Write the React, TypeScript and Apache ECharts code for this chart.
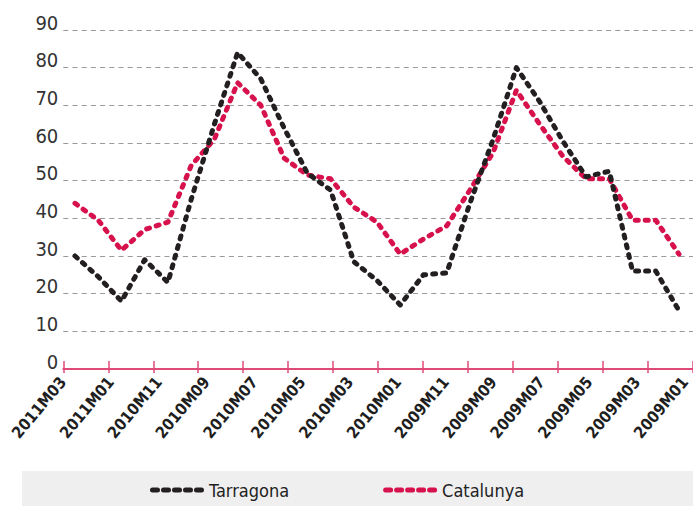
import React, { useEffect, useRef } from "react";
import * as echarts from "echarts";

// Monthly categories (data order as drawn, left to right)
const months = [
  "2011M03", "2011M02", "2011M01", "2010M12", "2010M11", "2010M10", "2010M09",
  "2010M08", "2010M07", "2010M06", "2010M05", "2010M04", "2010M03", "2010M02",
  "2010M01", "2009M12", "2009M11", "2009M10", "2009M09", "2009M08", "2009M07",
  "2009M06", "2009M05", "2009M04", "2009M03", "2009M02", "2009M01",
];

// Tick labels shown under the axis
const tickLabels = [
  "2011M03", "2011M01", "2010M11", "2010M09", "2010M07", "2010M05", "2010M03",
  "2010M01", "2009M11", "2009M09", "2009M07", "2009M05", "2009M03", "2009M01",
];

const tarragona = [
  30, 24.5, 18, 29, 23, 45, 65, 84, 77, 64, 52, 47.5, 28.5, 23.5, 17, 25, 25.5,
  44, 61, 80, 71, 60.5, 51, 52.5, 26, 26, 15.5,
];

const catalunya = [
  44, 39.5, 31.5, 37, 39, 54, 61, 76, 70, 56, 51.5, 50.5, 43, 39, 30.5, 34.5, 38,
  47.5, 57.5, 74, 65, 56.5, 50.5, 50.5, 39.5, 39.5, 30.5,
];

const yTicks = [0, 10, 20, 30, 40, 50, 60, 70, 80, 90];

const NARROW = "'DejaVu Sans Condensed', 'Liberation Sans Narrow', sans-serif";
const BLACK = "#231f20";
const RED = "#d6114c";
const AXIS_RED = "#e04a78";

// legend icon: five pill-shaped dots
const dotsIcon =
  "path://" +
  [0, 1, 2, 3, 4]
    .map((i) => {
      const x = i * 11;
      return `M${x + 2.5},0 L${x + 7.5},0 A2.5,2.5 0 0 1 ${x + 7.5},5 L${x + 2.5},5 A2.5,2.5 0 0 1 ${x + 2.5},0 Z`;
    })
    .join(" ");

export default function App() {
  const ref = useRef<HTMLDivElement>(null);

  useEffect(() => {
    if (!ref.current) return;
    const chart = echarts.init(ref.current, undefined, { renderer: "svg" });
    const top = 30;
    const bottom = 137;
    const lineStyleBase = { width: 5, type: [3, 7] as any, cap: "round" as any, join: "round" as any };
    chart.setOption({
      animation: false,
      backgroundColor: "#ffffff",
      graphic: [
        {
          type: "rect",
          left: 22,
          top: 471,
          shape: { width: 700, height: 40 },
          style: { fill: "#efeff0" },
          silent: true,
          z: 0,
        },
      ],
      legend: {
        left: 150,
        top: 481,
        padding: 0,
        icon: dotsIcon,
        itemWidth: 54,
        itemHeight: 6,
        itemGap: 94,
        data: ["Tarragona", "Catalunya"],
        textStyle: { fontFamily: NARROW, fontSize: 18, color: "#222" },
      },
      grid: [
        { left: 63.4, width: 627.2, top, bottom },
        { left: 63.3, width: 630.4, top, bottom },
        { left: 63, width: 633.75, top, bottom },
      ],
      xAxis: [
        {
          type: "category",
          gridIndex: 0,
          data: months,
          boundaryGap: true,
          show: false,
        },
        {
          type: "value",
          gridIndex: 1,
          position: "bottom",
          min: 0,
          max: 14,
          interval: 1,
          axisLine: { show: true, lineStyle: { color: AXIS_RED, width: 2 } },
          axisTick: { show: true, inside: true, length: 8, lineStyle: { color: AXIS_RED, width: 1.5 } },
          axisLabel: { show: false },
          splitLine: { show: false },
        },
        {
          type: "value",
          gridIndex: 1,
          position: "bottom",
          offset: 0,
          min: 0,
          max: 14,
          interval: 1,
          axisLine: { show: false },
          axisTick: { show: true, inside: false, length: 4, lineStyle: { color: AXIS_RED, width: 1.5 } },
          axisLabel: { show: false },
          splitLine: { show: false },
        },
        {
          type: "category",
          gridIndex: 2,
          data: tickLabels,
          boundaryGap: false,
          axisLine: { show: false },
          axisTick: { show: false },
          axisLabel: {
            interval: 0,
            rotate: 50,
            margin: 10,
            fontFamily: NARROW,
            fontWeight: "bold",
            fontSize: 16,
            color: "#1e1e1e",
          },
        },
      ],
      yAxis: [
        { type: "value", gridIndex: 0, min: 0, max: 90, interval: 10, show: false },
        {
          type: "value",
          gridIndex: 1,
          min: yTicks[0],
          max: yTicks[yTicks.length - 1],
          interval: 10,
          axisLine: { show: false },
          axisTick: { show: false },
          axisLabel: {
            margin: 5,
            fontFamily: NARROW,
            fontSize: 20,
            color: "#333",
            verticalAlign: "bottom",
            lineHeight: 15,
          },
          splitLine: { show: true, lineStyle: { color: "#9a9a9a", width: 1.2, type: [5, 4.2] } },
        },
        { type: "value", gridIndex: 2, min: 0, max: 90, show: false },
      ],
      series: [
        {
          name: "Tarragona",
          type: "line",
          xAxisIndex: 0,
          yAxisIndex: 0,
          data: tarragona,
          symbol: "none",
          z: 3,
          color: BLACK,
          lineStyle: { ...lineStyleBase, color: BLACK },
        },
        {
          name: "Catalunya",
          type: "line",
          xAxisIndex: 0,
          yAxisIndex: 0,
          data: catalunya,
          symbol: "none",
          z: 2,
          color: RED,
          lineStyle: { ...lineStyleBase, color: RED },
        },
      ],
    });
    return () => chart.dispose();
  }, []);

  return (
    <div
      ref={ref}
      style={{ position: "absolute", left: 0, top: 0, width: 693, height: 506 }}
    />
  );
}
